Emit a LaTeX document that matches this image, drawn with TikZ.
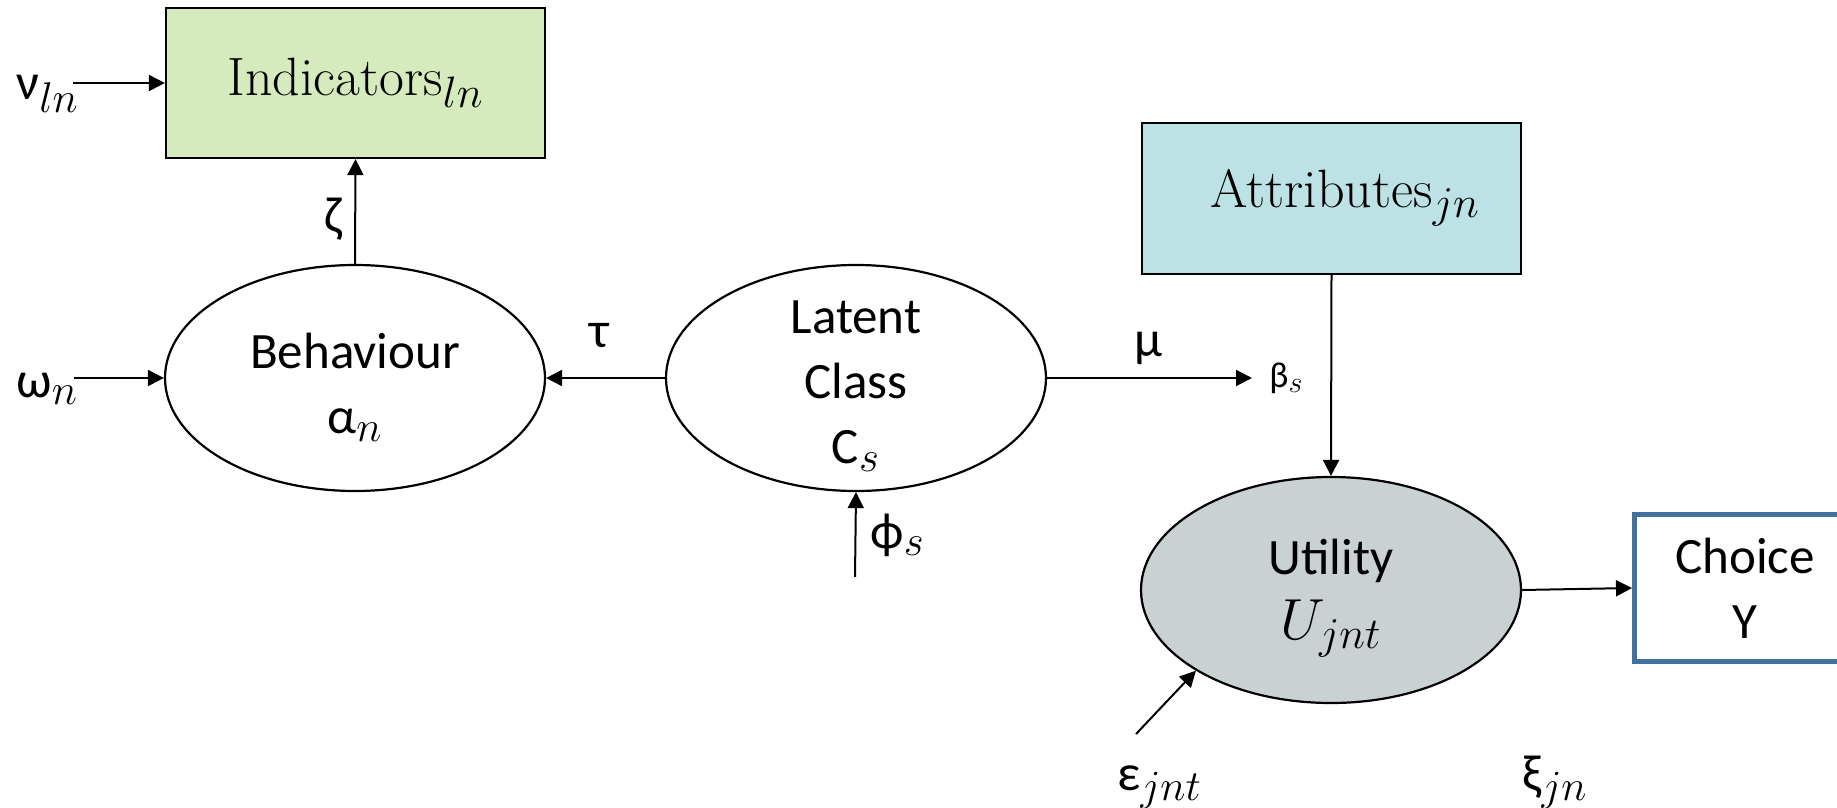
\RequirePackage{fix-cm}
\documentclass[tikz,border=0pt]{standalone}
\usepackage{fontspec}
\newfontfamily\carl{Carlito}
\usetikzlibrary{arrows.meta,shapes.geometric}
\DeclareMathSizes{25.5}{25.5}{21.5}{16}
\DeclareMathSizes{27}{27}{22}{16}
\DeclareMathSizes{29}{29}{22}{16}
\DeclareMathSizes{18}{18}{15}{11}
\definecolor{indfill}{HTML}{D5EBBD}
\definecolor{attfill}{HTML}{BDE2E6}
\definecolor{utilfill}{HTML}{C9D1D3}
\definecolor{choiceblue}{HTML}{41719C}
\newcommand\phisym{\iffontchar\font"03D5 ϕ\else $\phi$\fi}
\newcommand\bigU{{\fontsize{29}{30}\selectfont$U_{jnt}$}}
\tikzset{
  conn/.style={line width=1pt, -{Triangle[length=8pt,width=8pt]}},
  ell/.style={ellipse, draw, line width=1.1pt, minimum width=190pt, minimum height=113pt, inner sep=0pt},
  box/.style={rectangle, draw, line width=1.1pt, inner sep=0pt},
  sans/.style={font=\carl\fontsize{25.5}{32.5}\selectfont, align=center, inner sep=0pt},
  serif/.style={font=\fontsize{27}{30}\selectfont, inner sep=0pt},
  lbl/.style={font=\carl\fontsize{25.5}{30}\selectfont, inner sep=0pt},
  smalllbl/.style={font=\carl\fontsize{18}{20}\selectfont, inner sep=0pt},
}
\begin{document}
\begin{tikzpicture}[x=0.5pt,y=-0.5pt]
\path[use as bounding box] (0,0) rectangle (1837,808);
% main nodes
\node[box, fill=indfill, minimum width=189.5pt, minimum height=75pt, serif] (ind) at (355.5,83) {Indicators$_{ln}$};
\node[box, fill=attfill, minimum width=189.5pt, minimum height=75.5pt] (att) at (1331.5,198.5) {};
\node[serif, anchor=base west] (attT) at (1210,207) {Attributes$_{jn}$};
\node[ell] (beh) at (355,378) {};
\node[sans] (behT) at (355,387) {Behaviour\\α$_{n}$};
\node[ell] (lc) at (856,378) {};
\node[sans] (lcT) at (856,386) {Latent\\Class\\C$_{s}$};
\node[ell, fill=utilfill] (util) at (1331,590) {};
\node[sans] (utilT) at (1331,598) {Utility\\\bigU};
\node[box, draw=choiceblue, line width=2.5pt, minimum width=110.5pt, minimum height=73.5pt, sans] (choice) at (1745,588) {Choice\\Y};
% labels
\node[lbl, anchor=base west] (nuL) at (16,100) {ν$_{ln}$};
\node[lbl, anchor=base west] (omL) at (16,397) {ω$_{n}$};
\node[lbl] (zeL) at (333,219) {ζ};
\node[lbl] (taL) at (599,336) {τ};
\node[lbl] (muL) at (1149,348) {μ};
\node[smalllbl, anchor=base west] (beL) at (1269,387) {β$_{s}$};
\node[lbl, anchor=base west] (phL) at (870,548) {\phisym$_{s}$};
\node[lbl, anchor=base west] (epL) at (1117,790) {ε$_{jnt}$};
\node[lbl, anchor=base west] (xiL) at (1522,790) {ξ$_{jn}$};
% free ends
\coordinate (nuS) at (73,83);
\coordinate (omS) at (74,378);
\coordinate (muE) at (1252,378);
\coordinate (phS) at (855,577);
\coordinate (epS) at (1136,734);
% connectors
\draw[conn] (nuS) -- (ind.west);
\draw[conn] (beh.north) -- (ind.south);
\draw[conn] (omS) -- (beh.west);
\draw[conn] (lc.west) -- (beh.east);
\draw[conn] (lc.east) -- (muE);
\draw[conn] (phS) -- (lc.south);
\draw[conn] (att.south) -- (util.north);
\draw[conn] (util.east) -- (choice.west);
\draw[conn] (epS) -- (util.south west);
\end{tikzpicture}
\end{document}
